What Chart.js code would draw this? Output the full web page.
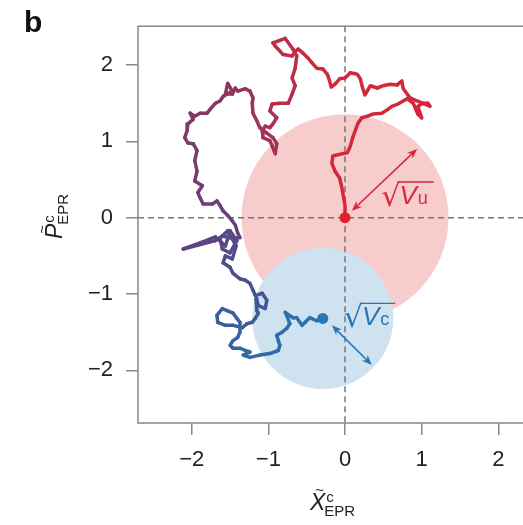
<!DOCTYPE html>
<html>
<head>
<meta charset="utf-8">
<script src="https://cdn.jsdelivr.net/npm/chart.js@4.4.0/dist/chart.umd.min.js"></script>
<style>
  html, body { margin: 0; padding: 0; background: #fff; overflow: hidden; }
  #wrap { position: relative; width: 560px; height: 525px; }
</style>
</head>
<body>
<div id="wrap"><canvas id="chart" width="560" height="525"></canvas></div>
<script>
// Trajectory of the conditional EPR quadratures, from the red start to the blue end
const trajX = [
    0, 0, -0.04, -0.07, -0.13, -0.17, -0.16, -0.03, 0.03, 0.07,
    0.10, 0.17, 0.22, 0.29, 0.37, 0.48, 0.56, 0.61, 0.69, 0.81,
    0.89, 0.95, 1.00, 0.95, 1.02, 1.08, 1.11, 0.94, 0.85, 0.76,
    0.74, 0.68, 0.59, 0.50, 0.42, 0.33, 0.29, 0.26, 0.23, 0.20,
    0.16, 0.07, 0, -0.07, -0.13, -0.18, -0.20, -0.23, -0.29, -0.37,
    -0.43, -0.48, -0.55, -0.61, -0.65, -0.69, -0.81, -0.91, -0.94, -0.78,
    -0.68, -0.63, -0.65, -0.69, -0.65, -0.69, -0.74, -0.85, -0.95, -0.98,
    -0.89, -0.94, -0.98, -1.04, -1.08, -1.07, -0.98, -0.95, -0.91, -0.89,
    -0.94, -1.02, -1.11, -1.15, -1.20, -1.21, -1.20, -1.24, -1.30, -1.40,
    -1.43, -1.47, -1.56, -1.53, -1.47, -1.59, -1.63, -1.69, -1.76, -1.80,
    -1.89, -1.96, -2.02, -1.98, -2.05, -2.06, -2.09, -2.05, -1.98, -1.93,
    -1.96, -1.93, -1.96, -1.86, -1.92, -1.89, -1.85, -1.73, -1.67, -1.63,
    -1.59, -1.53, -1.47, -1.43, -1.40, -1.37, -1.47, -1.60, -1.69, -2.11,
    -1.89, -1.69, -1.56, -1.50, -1.41, -1.50, -1.60, -1.63, -1.53, -1.42,
    -1.47, -1.56, -1.59, -1.50, -1.46, -1.37, -1.30, -1.24, -1.20, -1.17,
    -1.08, -1.02, -1.04, -1.13, -1.16, -1.15, -1.13, -1.17, -1.21, -1.28,
    -1.34, -1.46, -1.56, -1.66, -1.67, -1.60, -1.53, -1.46, -1.41, -1.37,
    -1.37, -1.40, -1.46, -1.50, -1.46, -1.37, -1.30, -1.24, -1.33, -1.24,
    -1.11, -0.98, -0.87, -0.85, -0.87, -0.89, -0.82, -0.76, -0.72, -0.76,
    -0.78, -0.68, -0.63, -0.56, -0.52, -0.46, -0.37, -0.29
];
const trajP = [
    0, 0.16, 0.39, 0.52, 0.61, 0.71, 0.81, 0.84, 0.85, 0.94,
    1.05, 1.24, 1.31, 1.33, 1.36, 1.37, 1.42, 1.46, 1.49, 1.56,
    1.50, 1.36, 1.31, 1.46, 1.50, 1.50, 1.46, 1.53, 1.57, 1.69,
    1.79, 1.74, 1.75, 1.73, 1.70, 1.73, 1.66, 1.61, 1.70, 1.82,
    1.88, 1.90, 1.83, 1.82, 1.75, 1.71, 1.79, 1.88, 1.95, 1.96,
    2.03, 2.09, 2.16, 2.21, 2.18, 2.12, 2.14, 2.25, 2.29, 2.35,
    2.21, 2.12, 1.96, 1.83, 1.73, 1.62, 1.50, 1.50, 1.49, 1.40,
    1.31, 1.23, 1.18, 1.20, 1.14, 1.05, 1.01, 0.94, 0.84, 0.97,
    1.05, 1.11, 1.18, 1.27, 1.37, 1.50, 1.57, 1.66, 1.69, 1.66,
    1.70, 1.62, 1.62, 1.76, 1.66, 1.59, 1.53, 1.50, 1.42, 1.37,
    1.37, 1.33, 1.37, 1.29, 1.23, 1.14, 1.05, 0.98, 0.97, 0.88,
    0.75, 0.61, 0.48, 0.42, 0.33, 0.26, 0.18, 0.18, 0.22, 0.16,
    0.09, 0.03, -0.04, -0.10, -0.20, -0.26, -0.27, -0.24, -0.30, -0.41,
    -0.33, -0.25, -0.37, -0.17, -0.30, -0.46, -0.41, -0.27, -0.17, -0.37,
    -0.54, -0.50, -0.59, -0.65, -0.73, -0.80, -0.82, -0.86, -0.95, -1.02,
    -0.99, -1.08, -1.19, -1.15, -1.06, -1.22, -1.25, -1.32, -1.37, -1.39,
    -1.44, -1.41, -1.41, -1.37, -1.28, -1.19, -1.22, -1.25, -1.32, -1.37,
    -1.50, -1.57, -1.61, -1.67, -1.71, -1.71, -1.74, -1.76, -1.80, -1.83,
    -1.80, -1.78, -1.74, -1.67, -1.61, -1.54, -1.50, -1.45, -1.39, -1.28,
    -1.24, -1.31, -1.31, -1.41, -1.37, -1.31, -1.35, -1.32
];

const xTicks = [-2, -1, 0, 1, 2];
const yTicks = [-2, -1, 0, 1, 2];

// Start / end of the trajectory and the two uncertainty circles
const startPoint = [0, 0];
const endPoint = [-0.29, -1.32];
const radiusU = 1.35;   // sqrt(V_u)
const radiusC = 0.92;   // sqrt(V_c)

// Double arrows marking the radii
const arrowU = [[0.09, 0.09], [0.94, 0.90]];
const arrowC = [[-0.17, -1.41], [0.35, -1.93]];

// Label anchors (left edge / baseline of the sqrt sign)
const labelU = [0.50, 0.18];
const labelC = [0.01, -1.41];

const FONT = '"Liberation Sans", Arial, Helvetica, sans-serif';
const RED = '#d8283a';
const BLUE = '#2a75b3';

// Colour ramp along the path: red -> purple -> blue
const rampStops = [
    [0.00, [216, 38, 54]],
    [0.25, [205, 42, 62]],
    [0.35, [175, 48, 80]],
    [0.50, [135, 56, 98]],
    [0.60, [108, 64, 118]],
    [0.70, [82, 74, 138]],
    [0.80, [60, 92, 152]],
    [1.00, [42, 116, 178]]
];

function rampColor(t) {
    for (let i = 1; i < rampStops.length; i++) {
        const [t1, c1] = rampStops[i];
        const [t0, c0] = rampStops[i - 1];
        if (t <= t1) {
            const f = (t - t0) / (t1 - t0);
            const c = c0.map((v, k) => Math.round(v + (c1[k] - v) * f));
            return `rgb(${c[0]},${c[1]},${c[2]})`;
        }
    }
    const c = rampStops[rampStops.length - 1][1];
    return `rgb(${c[0]},${c[1]},${c[2]})`;
}

function drawArrow(ctx, x0, y0, x1, y1, color) {
    const ang = Math.atan2(y1 - y0, x1 - x0);
    const len = 10, half = 4;
    ctx.save();
    ctx.strokeStyle = color;
    ctx.fillStyle = color;
    ctx.lineWidth = 1.6;
    ctx.beginPath();
    ctx.moveTo(x0 + Math.cos(ang) * 6, y0 + Math.sin(ang) * 6);
    ctx.lineTo(x1 - Math.cos(ang) * 6, y1 - Math.sin(ang) * 6);
    ctx.stroke();
    [[x1, y1, ang], [x0, y0, ang + Math.PI]].forEach(([hx, hy, a]) => {
        ctx.beginPath();
        ctx.moveTo(hx, hy);
        ctx.lineTo(hx - len * Math.cos(a) + half * Math.sin(a), hy - len * Math.sin(a) - half * Math.cos(a));
        ctx.lineTo(hx - len * 0.7 * Math.cos(a), hy - len * 0.7 * Math.sin(a));
        ctx.lineTo(hx - len * Math.cos(a) - half * Math.sin(a), hy - len * Math.sin(a) + half * Math.cos(a));
        ctx.closePath();
        ctx.fill();
    });
    ctx.restore();
}

function drawSqrtLabel(ctx, x, y, sub, color) {
    ctx.save();
    ctx.fillStyle = color;
    ctx.strokeStyle = color;
    ctx.textBaseline = 'alphabetic';
    ctx.font = '30px "DejaVu Sans", sans-serif';
    ctx.fillText('\u221A', x - 2, y + 2);
    const rw = ctx.measureText('\u221A').width;
    ctx.font = 'italic 26px ' + FONT;
    const vx = x + rw - 3;
    ctx.fillText('V', vx, y);
    const vw = ctx.measureText('V').width;
    ctx.font = '18px ' + FONT;
    ctx.fillText(sub, vx + vw + 1, y);
    const sw = ctx.measureText(sub).width;
    ctx.lineWidth = 1.4;
    ctx.beginPath();
    ctx.moveTo(vx - 2, y - 22);
    ctx.lineTo(vx + vw + sw + 7, y - 22);
    ctx.stroke();
    ctx.restore();
}

// Tilde-X / tilde-P with superscript c and subscript EPR
function drawQuadLabel(ctx, letter, x, y) {
    ctx.save();
    ctx.fillStyle = '#222';
    ctx.textBaseline = 'alphabetic';
    ctx.font = 'italic 23px ' + FONT;
    ctx.fillText(letter, x, y);
    const w = ctx.measureText(letter).width;
    ctx.font = '15px ' + FONT;
    ctx.fillText('~', x + w * 0.35, y - 15);
    ctx.fillText('c', x + w + 1, y - 8);
    ctx.fillText('EPR', x + w - 1, y + 6);
    ctx.restore();
}

const backgroundPlugin = {
    id: 'background',
    beforeDatasetsDraw(chart) {
        const { ctx, chartArea: a, scales: { x, y } } = chart;
        const px = v => x.getPixelForValue(v);
        const py = v => y.getPixelForValue(v);
        const unit = px(1) - px(0);
        ctx.save();
        ctx.beginPath();
        ctx.rect(a.left, a.top, a.right - a.left, a.bottom - a.top);
        ctx.clip();
        ctx.fillStyle = '#f6cccc';
        ctx.beginPath();
        ctx.arc(px(startPoint[0]), py(startPoint[1]), radiusU * unit, 0, Math.PI * 2);
        ctx.fill();
        ctx.fillStyle = '#cfe2f0';
        ctx.beginPath();
        ctx.arc(px(endPoint[0]), py(endPoint[1]), radiusC * unit, 0, Math.PI * 2);
        ctx.fill();
        // dashed zero lines
        ctx.strokeStyle = '#777';
        ctx.lineWidth = 1.5;
        ctx.setLineDash([6, 4]);
        ctx.beginPath();
        ctx.moveTo(px(0), a.top);
        ctx.lineTo(px(0), a.bottom);
        ctx.moveTo(a.left, py(0));
        ctx.lineTo(a.right, py(0));
        ctx.stroke();
        ctx.restore();
        // plot frame
        ctx.save();
        ctx.strokeStyle = '#888';
        ctx.lineWidth = 1.5;
        ctx.strokeRect(a.left, a.top, a.right - a.left, a.bottom - a.top);
        ctx.restore();
    },
    afterDatasetsDraw(chart) {
        const { ctx, scales: { x, y } } = chart;
        const px = v => x.getPixelForValue(v);
        const py = v => y.getPixelForValue(v);
        drawArrow(ctx, px(arrowU[0][0]), py(arrowU[0][1]), px(arrowU[1][0]), py(arrowU[1][1]), RED);
        drawArrow(ctx, px(arrowC[0][0]), py(arrowC[0][1]), px(arrowC[1][0]), py(arrowC[1][1]), BLUE);
        drawSqrtLabel(ctx, px(labelU[0]), py(labelU[1]), 'u', RED);
        drawSqrtLabel(ctx, px(labelC[0]), py(labelC[1]), 'c', BLUE);
    },
    afterDraw(chart) {
        const ctx = chart.ctx;
        drawQuadLabel(ctx, 'X', 310, 510);
        ctx.save();
        ctx.translate(62, 219);
        ctx.rotate(-Math.PI / 2);
        drawQuadLabel(ctx, 'P', -20, 0);
        ctx.restore();
        ctx.save();
        ctx.fillStyle = '#111';
        ctx.font = 'bold 30px ' + FONT;
        ctx.fillText('b', 24, 32);
        ctx.restore();
    }
};

const pathPoints = trajX.map((v, i) => ({ x: v, y: trajP[i] }));
const nPts = pathPoints.length;

const tickFont = { family: FONT, size: 22 };
const minusLabel = v => (v < 0 ? '\u2212' + Math.abs(v) : String(v));

new Chart(document.getElementById('chart'), {
    type: 'scatter',
    data: {
        datasets: [
            {
                data: [{ x: startPoint[0], y: startPoint[1] }],
                pointRadius: 5.5,
                backgroundColor: '#e0202f',
                borderWidth: 0,
                order: 0
            },
            {
                data: [{ x: endPoint[0], y: endPoint[1] }],
                pointRadius: 5.5,
                backgroundColor: BLUE,
                borderWidth: 0,
                order: 0
            },
            {
                type: 'line',
                data: pathPoints,
                showLine: true,
                pointRadius: 0,
                borderWidth: 3.5,
                tension: 0,
                borderJoinStyle: 'round',
                borderCapStyle: 'round',
                borderColor: RED,
                segment: {
                    borderColor: c => rampColor(c.p0DataIndex / (nPts - 1))
                },
                order: 1
            }
        ]
    },
    options: {
        responsive: false,
        animation: false,
        devicePixelRatio: 1,
        layout: { padding: { left: 0, top: 25, right: 8, bottom: 0 } },
        plugins: { legend: { display: false }, tooltip: { enabled: false } },
        scales: {
            x: {
                type: 'linear',
                min: -2.7,
                max: 2.7,
                afterBuildTicks: s => { s.ticks = xTicks.map(v => ({ value: v })); },
                afterFit: s => { s.height = 102; },
                grid: { drawOnChartArea: false, tickLength: 12, color: '#888', lineWidth: 1.5 },
                border: { display: false },
                ticks: { padding: 12, font: tickFont, color: '#222', callback: minusLabel, maxRotation: 0 }
            },
            y: {
                type: 'linear',
                min: -2.69,
                max: 2.51,
                afterBuildTicks: s => { s.ticks = yTicks.map(v => ({ value: v })); },
                afterFit: s => { s.width = 138; },
                grid: { drawOnChartArea: false, tickLength: 12, color: '#888', lineWidth: 1.5 },
                border: { display: false },
                ticks: { padding: 13, font: tickFont, color: '#222', callback: minusLabel }
            }
        }
    },
    plugins: [backgroundPlugin]
});
</script>
</body>
</html>
